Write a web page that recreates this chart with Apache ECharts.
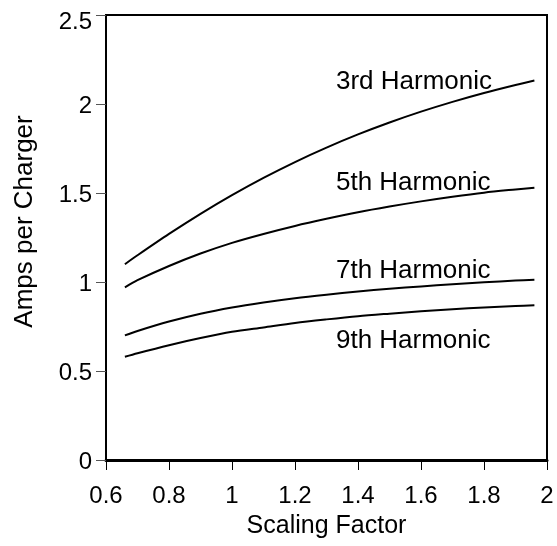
<!DOCTYPE html>
<html>
<head>
<meta charset="utf-8">
<script src="https://cdn.jsdelivr.net/npm/echarts@6/dist/echarts.min.js"></script>
<style>
  html, body { margin: 0; padding: 0; background: #fff; }
  #chart { width: 557px; height: 546px; }
</style>
</head>
<body>
<div id="chart"></div>
<script>
// Scaling factor samples shared by all four curves
const scaling = [0.66, 0.7, 0.8, 0.9, 1.0, 1.1, 1.2, 1.3, 1.4, 1.5, 1.6, 1.7, 1.8, 1.9, 1.96];

// Harmonic current per charger (A)
const harmonic3 = [1.10, 1.15, 1.27, 1.383, 1.488, 1.585, 1.674, 1.755, 1.829, 1.896, 1.957, 2.012, 2.062, 2.107, 2.132];
const harmonic5 = [0.97, 1.01, 1.09, 1.16, 1.22, 1.27, 1.315, 1.355, 1.392, 1.424, 1.453, 1.479, 1.502, 1.52, 1.53];
const harmonic7 = [0.70, 0.725, 0.778, 0.822, 0.857, 0.885, 0.909, 0.929, 0.947, 0.962, 0.975, 0.987, 0.998, 1.008, 1.013];
const harmonic9 = [0.58, 0.60, 0.645, 0.685, 0.72, 0.745, 0.77, 0.79, 0.808, 0.822, 0.835, 0.847, 0.857, 0.865, 0.87];

const seriesNames = ['3rd Harmonic', '5th Harmonic', '7th Harmonic', '9th Harmonic'];
const seriesValues = [harmonic3, harmonic5, harmonic7, harmonic9];
// Where each curve's name is written: [scaling factor, amps]
const nameAnchors = [[1.33, 2.126], [1.33, 1.559], [1.33, 1.062], [1.33, 0.669]];

const FONT = '"Liberation Sans", Arial, sans-serif';

const chart = echarts.init(document.getElementById('chart'), null, { renderer: 'canvas' });

const series = seriesNames.map((name, i) => ({
  name,
  type: 'line',
  data: scaling.map((x, j) => [x, seriesValues[i][j]]),
  smooth: 0.3,
  showSymbol: false,
  symbol: 'none',
  lineStyle: { color: '#000', width: 2 },
  silent: true,
  markPoint: {
    symbol: 'circle',
    symbolSize: 0,
    silent: true,
    data: [{
      coord: nameAnchors[i],
      label: {
        show: true,
        formatter: name,
        position: 'right',
        distance: 0,
        color: '#000',
        fontFamily: FONT,
        fontSize: 26
      }
    }]
  }
}));

const fmt = v => String(Math.round(v * 10) / 10);

chart.setOption({
  animation: false,
  backgroundColor: '#fff',
  grid: {
    left: 106, right: 10, top: 15, bottom: 86,
    show: true,
    borderColor: '#000',
    borderWidth: 2,
    backgroundColor: 'transparent'
  },
  xAxis: {
    type: 'value',
    min: 0.6, max: 2, interval: 0.2,
    name: 'Scaling Factor',
    nameLocation: 'middle',
    nameGap: 54,
    nameTextStyle: { color: '#000', fontFamily: FONT, fontSize: 25 },
    axisLine: { show: true, onZero: false, lineStyle: { color: '#000', width: 3 } },
    axisTick: { show: true, length: 10, inside: false, lineStyle: { color: '#000', width: 1 } },
    axisLabel: {
      color: '#000', fontFamily: FONT, fontSize: 24, margin: 24,
      formatter: fmt
    },
    splitLine: { show: false }
  },
  yAxis: {
    type: 'value',
    min: 0, max: 2.5, interval: 0.5,
    name: 'Amps per Charger',
    nameLocation: 'middle',
    nameGap: 68,
    nameTextStyle: { color: '#000', fontFamily: FONT, fontSize: 26, padding: [0, 0, 0, 32] },
    axisLine: { show: true, lineStyle: { color: '#000', width: 2 } },
    axisTick: { show: true, length: 10, inside: false, lineStyle: { color: '#555', width: 1 } },
    axisLabel: {
      color: '#000', fontFamily: FONT, fontSize: 24, margin: 14,
      formatter: v => (v >= 2.5 ? '{top|' + fmt(v) + '}' : '{n|' + fmt(v) + '}'),
      rich: {
        n: { color: '#000', fontFamily: FONT, fontSize: 24, padding: [5, 0, 0, 0] },
        top: { color: '#000', fontFamily: FONT, fontSize: 24, padding: [15, 0, 0, 0] }
      }
    },
    splitLine: { show: false }
  },
  series
});
</script>
</body>
</html>
